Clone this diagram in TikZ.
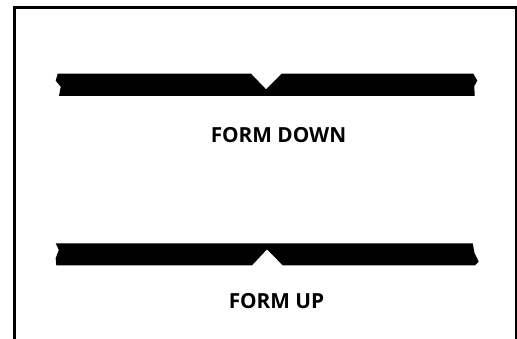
\documentclass[tikz,border=0pt]{standalone}
\usepackage{fontspec}
\setmainfont{Open Sans}
\tikzset{
  frameline/.style={line width=2.5pt,black,line cap=butt,line join=miter},
  barshape/.style={fill=black,draw=none},
  caption/.style={font=\fontsize{20.8}{24}\selectfont\bfseries,inner sep=0pt,text=black,anchor=base}
}
\begin{document}
\begin{tikzpicture}[x=1pt,y=-1pt]
\useasboundingbox (0,0) rectangle (517,339);
\fill[white] (0,0) rectangle (517,339);
\draw[frameline] (14.5,339) -- (14.5,7.5) -- (516,7.5) -- (516,339);
\fill[barshape] (57.7,73.7) -- (251,73.7) -- (266,89.3) -- (281.7,73.7) -- (473.3,73.7) -- (477.3,80.7) -- (474.3,86) -- (474.7,96) -- (59,96) -- (60.7,86.7) -- (55.7,80.7) -- cycle;
\fill[barshape] (55.7,243.3) -- (472.7,243.3) -- (474.5,253) -- (478.7,261.7) -- (475,265.3) -- (282.7,265.3) -- (267,249.3) -- (252,265.3) -- (56.3,265.3) -- (55.7,258.3) -- (58.8,250) -- cycle;
\node[caption] (down) at (278.5,142.7) {FORM DOWN};
\node[caption] (up) at (276.5,308.5) {FORM UP};
\end{tikzpicture}
\end{document}
